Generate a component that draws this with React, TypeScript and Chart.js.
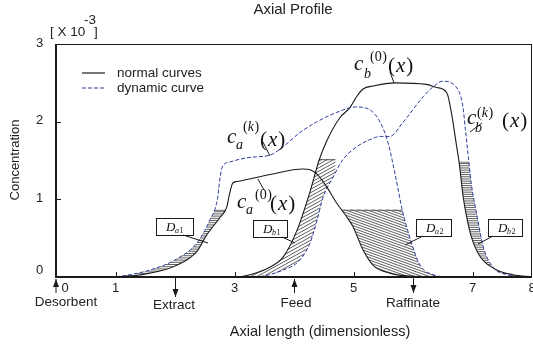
import React, { useEffect, useRef } from "react";
import { Chart, registerables } from "chart.js";
Chart.register(...registerables);

// c_a^(0)(x) normal curve
const xA0 = [0, 1.0, 1.24, 1.58, 2.0, 2.37, 2.54, 2.76, 2.87, 2.92, 2.97, 3.04, 3.6, 4.15, 4.27, 4.39, 4.55, 4.72, 4.89, 4.99, 5.16, 5.33, 5.61, 6.0, 8];
const yA0 = [0, 0, 0.01, 0.05, 0.14, 0.33, 0.55, 0.77, 0.9, 1.08, 1.21, 1.23, 1.32, 1.39, 1.38, 1.32, 1.16, 0.95, 0.77, 0.65, 0.35, 0.15, 0.05, 0.01, 0];
// c_a^(k)(x) dynamic curve
const xAK = [0, 0.9, 1.24, 1.58, 2.0, 2.37, 2.59, 2.71, 2.76, 2.79, 2.92, 3.26, 3.6, 3.82, 4.1, 4.39, 4.72, 5.04, 5.28, 5.45, 5.58, 5.7, 5.82, 5.95, 6.12, 6.34, 6.6, 8];
const yAK = [0, 0, 0.03, 0.09, 0.22, 0.44, 0.74, 0.99, 1.29, 1.41, 1.48, 1.54, 1.57, 1.68, 1.86, 2.0, 2.12, 2.19, 2.15, 1.99, 1.73, 1.32, 0.86, 0.5, 0.15, 0.03, 0, 0];
// c_b^(0)(x) normal curve
const xB0 = [0, 3.0, 3.26, 3.6, 3.82, 4.05, 4.27, 4.42, 4.55, 4.77, 4.94, 5.06, 5.16, 5.33, 5.71, 6.22, 6.4, 6.57, 6.66, 6.72, 6.78, 6.84, 6.9, 6.98, 7.13, 7.41, 7.68, 8];
const yB0 = [0, 0, 0.03, 0.13, 0.26, 0.6, 1.1, 1.5, 1.75, 2.05, 2.18, 2.33, 2.42, 2.46, 2.5, 2.48, 2.44, 2.37, 2.05, 1.75, 1.45, 1.05, 0.78, 0.52, 0.26, 0.09, 0.03, 0];
// c_b^(k)(x) dynamic curve
const xBK = [0, 3.3, 3.82, 4.1, 4.27, 4.39, 4.49, 4.66, 4.82, 5.06, 5.28, 5.45, 5.61, 5.83, 6.17, 6.34, 6.5, 6.72, 6.84, 6.88, 6.93, 6.98, 7.08, 7.18, 7.34, 7.58, 7.8, 8];
const yBK = [0, 0, 0.09, 0.22, 0.44, 0.74, 1.03, 1.29, 1.51, 1.68, 1.77, 1.81, 1.81, 1.99, 2.32, 2.45, 2.52, 2.45, 2.19, 1.9, 1.55, 1.2, 0.77, 0.39, 0.13, 0.03, 0, 0];

const xTickValues = [0, 1, 3, 5, 7, 8];
const yTickValues = [0, 1, 2, 3];
const portNames = ["Desorbent", "Extract", "Feed", "Raffinate"];
const portPositions = [0, 2, 4, 6];
const portInflow = [true, false, true, false];
// hatched regions: D_a1, D_b1, D_a2, D_b2
const regionNames = ["a1", "b1", "a2", "b2"];
const regionTopLevels = [0.86, 1.51, 0.86, 1.48];
const regionXFrom = [0.8, 3.0, 4.5, 6.5];
const regionXTo = [3.2, 4.7, 6.7, 8.0];

const BLUE = "#2d3c9c";
const INK = "#1a1a1a";
const SANS = "'Liberation Sans', Arial, sans-serif";
const SERIF = "'Liberation Serif', 'DejaVu Serif', serif";

const toPts = (xs: number[], ys: number[]) => xs.map((x, i) => ({ x, y: ys[i] }));

function curvePath(ctx: CanvasRenderingContext2D, meta: any, baseY: number) {
  const pts = meta.data;
  ctx.moveTo(pts[0].x, pts[0].y);
  for (let i = 1; i < pts.length; i++) {
    const p = pts[i - 1], c = pts[i];
    if (p.cp2x !== undefined && c.cp1x !== undefined) ctx.bezierCurveTo(p.cp2x, p.cp2y, c.cp1x, c.cp1y, c.x, c.y);
    else ctx.lineTo(c.x, c.y);
  }
  ctx.lineTo(pts[pts.length - 1].x, baseY);
  ctx.lineTo(pts[0].x, baseY);
  ctx.closePath();
}

function arrow(ctx: CanvasRenderingContext2D, x: number, y1: number, y2: number) {
  ctx.beginPath();
  ctx.moveTo(x, y1);
  ctx.lineTo(x, y2);
  ctx.stroke();
  const d = y2 > y1 ? 1 : -1;
  ctx.beginPath();
  ctx.moveTo(x, y2);
  ctx.lineTo(x - 3, y2 - d * 8);
  ctx.lineTo(x + 3, y2 - d * 8);
  ctx.closePath();
  ctx.fill();
}

function line(ctx: CanvasRenderingContext2D, x1: number, y1: number, x2: number, y2: number) {
  ctx.beginPath();
  ctx.moveTo(x1, y1);
  ctx.lineTo(x2, y2);
  ctx.stroke();
}

function mathLabel(ctx: CanvasRenderingContext2D, cx: number, cy: number, sub: string, sup: string,
  subX: number, subY: number, supX: number, supY: number, pX: number, pY: number) {
  ctx.textAlign = "left";
  ctx.textBaseline = "alphabetic";
  ctx.font = `italic 21px ${SERIF}`;
  ctx.fillText("c", cx, cy);
  ctx.font = `italic 14px ${SERIF}`;
  ctx.fillText(sub, subX, subY);
  ctx.font = `14px ${SERIF}`;
  const inner = sup.slice(1, -1);
  let x = supX;
  ctx.fillText("(", x, supY); x += ctx.measureText("(").width;
  ctx.font = `${inner === "k" ? "italic " : ""}14px ${SERIF}`;
  ctx.fillText(inner, x, supY); x += ctx.measureText(inner).width + 0.5;
  ctx.font = `14px ${SERIF}`;
  ctx.fillText(")", x, supY);
  x = pX;
  ctx.font = `21px ${SERIF}`;
  ctx.fillText("(", x, pY); x += ctx.measureText("(").width + 1;
  ctx.font = `italic 21px ${SERIF}`;
  ctx.fillText("x", x, pY); x += ctx.measureText("x").width + 1;
  ctx.font = `21px ${SERIF}`;
  ctx.fillText(")", x, pY);
}

const profilePlugin = {
  id: "profile",
  beforeDatasetsDraw(chart: any) {
    const ctx: CanvasRenderingContext2D = chart.ctx;
    const xs = chart.scales.x, ys = chart.scales.y;
    const metas = [0, 1, 2, 3].map((i) => chart.getDatasetMeta(i));
    metas.forEach((m) => m.dataset && m.dataset.updateControlPoints && m.dataset.updateControlPoints(chart.chartArea, "x"));
    const pairs = [[0, 1], [2, 3], [0, 1], [2, 3]];
    const styles = ["h", "up", "down", "h"];
    const base = ys.getPixelForValue(0);
    for (let r = 0; r < 4; r++) {
      const top = ys.getPixelForValue(regionTopLevels[r]);
      const l = xs.getPixelForValue(regionXFrom[r]);
      const rr = xs.getPixelForValue(regionXTo[r]);
      ctx.save();
      ctx.beginPath();
      ctx.rect(l, top - 0.6, rr - l, base - top + 0.6);
      ctx.clip();
      ctx.beginPath();
      curvePath(ctx, metas[pairs[r][0]], base + 2);
      curvePath(ctx, metas[pairs[r][1]], base + 2);
      ctx.clip("evenodd");
      ctx.strokeStyle = INK;
      ctx.lineWidth = 0.7;
      ctx.beginPath();
      const st = styles[r];
      if (st === "h") {
        for (let y = top + 1.5; y < base; y += 2.2) { ctx.moveTo(l, y); ctx.lineTo(rr, y); }
      } else if (st === "up") {
        const s = 0.55, w = rr - l;
        for (let c = top; c < base + s * w; c += 3.4) { ctx.moveTo(l, c); ctx.lineTo(rr, c - s * w); }
      } else {
        const s = 0.36, w = rr - l;
        for (let c = top - s * w; c < base; c += 2.6) { ctx.moveTo(l, c); ctx.lineTo(rr, c + s * w); }
      }
      ctx.stroke();
      ctx.lineWidth = 1;
      ctx.strokeStyle = "#555";
      line(ctx, l, top, rr, top);
      ctx.restore();
    }
  },
  afterDraw(chart: any) {
    const ctx: CanvasRenderingContext2D = chart.ctx;
    const xs = chart.scales.x, ys = chart.scales.y;
    const a = chart.chartArea;
    ctx.save();
    ctx.strokeStyle = INK;
    ctx.fillStyle = "#222";
    // frame
    ctx.lineWidth = 1;
    line(ctx, a.left, a.top + 0.5, a.right, a.top + 0.5);
    line(ctx, a.right - 0.5, a.top, a.right - 0.5, a.bottom);
    ctx.lineWidth = 2;
    line(ctx, a.left, a.top, a.left, a.bottom + 1);
    line(ctx, a.left, a.bottom, a.right, a.bottom);
    // ticks
    ctx.lineWidth = 1;
    yTickValues.forEach((v) => {
      if (v === 0 || v === 3) return;
      const y = Math.round(ys.getPixelForValue(v)) + 0.5;
      line(ctx, a.left, y, a.left + 5, y);
    });
    xTickValues.forEach((v) => {
      if (v === 0 || v === 8) return;
      const x = Math.round(xs.getPixelForValue(v)) + 0.5;
      line(ctx, x, a.bottom, x, a.bottom - 5);
    });
    // tick labels
    ctx.font = `13px ${SANS}`;
    ctx.textAlign = "center";
    ctx.textBaseline = "middle";
    yTickValues.forEach((v) => {
      const y = ys.getPixelForValue(v) + (v === 0 ? -7 : -1);
      ctx.fillText(String(v), 39.5, y);
    });
    xTickValues.forEach((v) => {
      const x = xs.getPixelForValue(v) + (v === 0 ? 9 : 0);
      ctx.fillText(String(v), x, a.bottom + 11);
    });
    // title and axis titles
    ctx.font = `15px ${SANS}`;
    ctx.fillText("Axial Profile", 293, 10);
    ctx.font = `14.5px ${SANS}`;
    ctx.fillText("Axial length (dimensionless)", 320, 332);
    ctx.font = `13.5px ${SANS}`;
    ctx.textAlign = "left";
    ctx.fillText("[ X 10", 50, 32);
    ctx.fillText("-3", 84, 20);
    ctx.fillText("]", 94, 32);
    ctx.save();
    ctx.translate(15, 160);
    ctx.rotate(-Math.PI / 2);
    ctx.textAlign = "center";
    ctx.font = `13px ${SANS}`;
    ctx.fillText("Concentration", 0, 0);
    ctx.restore();
    // legend
    ctx.lineWidth = 1.2;
    ctx.strokeStyle = INK;
    line(ctx, 82, 73, 105, 73);
    ctx.strokeStyle = BLUE;
    ctx.lineWidth = 1;
    ctx.setLineDash([4, 2]);
    line(ctx, 82, 88, 105, 88);
    ctx.setLineDash([]);
    ctx.font = `13.5px ${SANS}`;
    ctx.textAlign = "left";
    ctx.fillText("normal curves", 117, 73);
    ctx.fillText("dynamic curve", 117, 88);
    // ports
    ctx.strokeStyle = INK;
    ctx.fillStyle = INK;
    ctx.lineWidth = 1;
    const labelX = [66, 174, 296, 413];
    const labelY = [302, 305, 303, 303];
    portPositions.forEach((p, i) => {
      const x = Math.round(xs.getPixelForValue(p)) + (i === 0 ? 0 : 0.5);
      if (portInflow[i]) arrow(ctx, x, a.bottom + 16, a.bottom + 2);
      else arrow(ctx, x, a.bottom + 1, a.bottom + (i === 1 ? 20 : 16));
      ctx.fillStyle = "#222";
      ctx.font = `13.5px ${SANS}`;
      ctx.textAlign = "center";
      ctx.textBaseline = "middle";
      ctx.fillText(portNames[i], labelX[i], labelY[i]);
      ctx.fillStyle = INK;
    });
    // math labels
    ctx.fillStyle = "#111";
    mathLabel(ctx, 227, 143, "a", "(k)", 236, 149, 243, 131, 260, 146);
    mathLabel(ctx, 237, 208, "a", "(0)", 246, 214, 255, 199, 270, 210);
    mathLabel(ctx, 354, 70, "b", "(0)", 364, 78, 370, 61, 388, 72);
    mathLabel(ctx, 467, 124, "b", "(k)", 475, 132, 477, 117, 502, 127);
    ctx.strokeStyle = INK;
    ctx.lineWidth = 1;
    line(ctx, 263, 142, 270, 156);
    line(ctx, 264, 190, 258, 179);
    line(ctx, 390, 72, 394, 83);
    line(ctx, 470, 132, 482, 123);
    // region boxes
    const boxes = [[156, 218, 37, 17], [253, 220, 34, 17], [416, 219, 35, 17], [488, 219, 34, 17]];
    const leaders = [[183, 235, 208, 243], [282, 237, 295, 243], [423, 236, 405, 245], [493, 236, 478, 244]];
    boxes.forEach((b, i) => {
      ctx.fillStyle = "#fff";
      ctx.fillRect(b[0], b[1], b[2], b[3]);
      ctx.strokeStyle = INK;
      ctx.lineWidth = 1;
      ctx.strokeRect(b[0] + 0.5, b[1] + 0.5, b[2], b[3]);
      ctx.fillStyle = "#111";
      ctx.textAlign = "left";
      ctx.textBaseline = "alphabetic";
      ctx.font = `italic 13px ${SERIF}`;
      ctx.fillText("D", b[0] + 10, b[1] + 13);
      ctx.font = `italic 8px ${SERIF}`;
      ctx.fillText(regionNames[i][0], b[0] + 19, b[1] + 15);
      ctx.font = `8px ${SERIF}`;
      ctx.fillText(regionNames[i][1], b[0] + 23.5, b[1] + 15);
      const L = leaders[i];
      line(ctx, L[0], L[1], L[2], L[3]);
    });
    ctx.restore();
  },
};

export default function App() {
  const ref = useRef<HTMLCanvasElement | null>(null);
  useEffect(() => {
    document.body.style.margin = "0";
    const canvas = ref.current!;
    const common = { pointRadius: 0, cubicInterpolationMode: "monotone" as const, fill: false };
    const chart = new Chart(canvas, {
      type: "line",
      data: {
        datasets: [
          { label: "c_a^(0)", data: toPts(xA0, yA0), borderColor: INK, borderWidth: 1.1, ...common },
          { label: "c_a^(k)", data: toPts(xAK, yAK), borderColor: BLUE, borderWidth: 1, borderDash: [4, 2], ...common },
          { label: "c_b^(0)", data: toPts(xB0, yB0), borderColor: INK, borderWidth: 1.1, ...common },
          { label: "c_b^(k)", data: toPts(xBK, yBK), borderColor: BLUE, borderWidth: 1, borderDash: [4, 2], ...common },
        ],
      },
      options: {
        responsive: false,
        animation: false,
        events: [],
        layout: { padding: { left: 56, right: 1, top: 44, bottom: 72 } },
        scales: {
          x: { type: "linear", min: 0, max: 8, display: false },
          y: { type: "linear", min: 0, max: 3, display: false },
        },
        plugins: { legend: { display: false }, tooltip: { enabled: false }, title: { display: false } },
      },
      plugins: [profilePlugin],
    } as any);
    return () => chart.destroy();
  }, []);
  return (
    <div style={{ position: "absolute", left: 0, top: 0, width: 533, height: 349, background: "#fff" }}>
      <canvas ref={ref} width={533} height={349} style={{ width: 533, height: 349, display: "block" }} />
    </div>
  );
}
